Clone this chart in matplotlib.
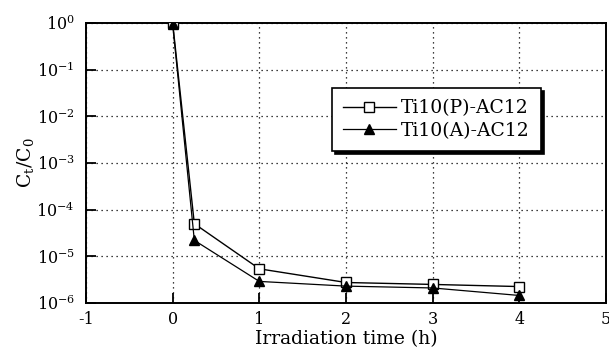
import numpy as np
import matplotlib
matplotlib.use("Agg")
import matplotlib.pyplot as plt

time_p = [0, 0.25, 1, 2, 3, 4]
ratio_p = [1.0, 5.0e-5, 5.4e-6, 2.75e-6, 2.5e-6, 2.25e-6]
time_a = [0, 0.25, 1, 2, 3, 4]
ratio_a = [0.95, 2.2e-5, 2.9e-6, 2.3e-6, 2.1e-6, 1.45e-6]

plt.rcParams['font.family'] = ['DejaVu Serif']
plt.rcParams['mathtext.fontset'] = 'dejavuserif'

fig = plt.figure(figsize=(6.09, 3.52), dpi=100)
ax = fig.add_axes([86 / 609, 1 - 303 / 352, (606 - 86) / 609, (303 - 23) / 352])

ax.semilogy(time_p, ratio_p, 'k-', marker='s', markerfacecolor='white',
            markeredgecolor='black', markersize=6.5, linewidth=1,
            label='Ti10(P)-AC12', zorder=3)
ax.semilogy(time_a, ratio_a, 'k-', marker='^', markerfacecolor='black',
            markersize=6.5, linewidth=0.9, label='Ti10(A)-AC12', zorder=3)

ax.set_xlim(-1, 5)
ax.set_ylim(1e-6, 1)
ax.set_xticks(np.arange(-1, 6))
ax.set_xticklabels(['-1', '0', '1', '2', '3', '4', '5'])
ax.set_yticks([10.0 ** k for k in range(-6, 1)])
ax.yaxis.set_minor_locator(matplotlib.ticker.NullLocator())
ax.tick_params(direction='in', length=7, width=1.3, labelsize=11.5, pad=8)
ax.tick_params(axis='x', pad=6)
ax.grid(True, which='major', color='black', linestyle=(0, (1, 3)), linewidth=0.9)
for s in ax.spines.values():
    s.set_linewidth(1.4)

ax.set_xlabel('Irradiation time (h)', fontsize=13.5, labelpad=1)
ax.set_ylabel(r'C$_\mathrm{t}$/C$_\mathrm{0}$', fontsize=13.5, labelpad=0)

# legend with a solid black drop shadow
leg = ax.legend(loc='upper left', bbox_to_anchor=(0.473, 0.768), fontsize=13.5,
                fancybox=False, shadow={'color': 'black', 'alpha': 1},
                edgecolor='black', framealpha=1,
                handlelength=2.8, borderpad=0.6, labelspacing=0.25,
                handletextpad=0.3, borderaxespad=0)
leg.get_frame().set_linewidth(1.2)

fig.savefig('out.png', dpi=100)
